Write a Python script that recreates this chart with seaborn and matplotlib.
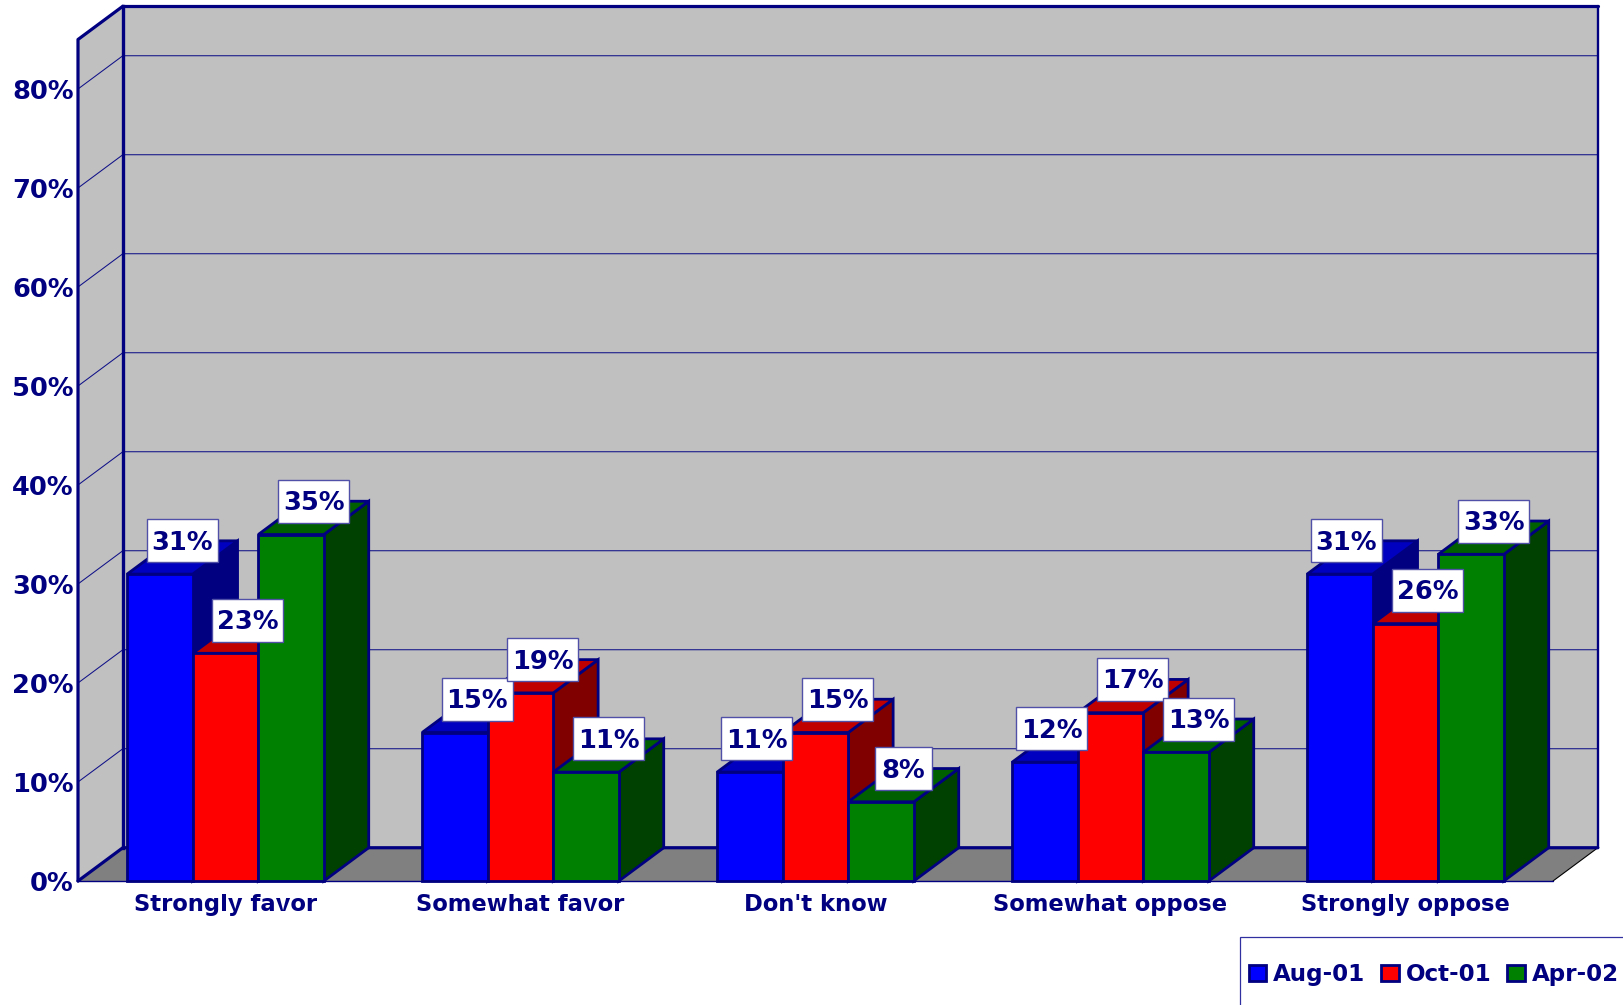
import matplotlib
matplotlib.use("Agg")
import matplotlib.pyplot as plt
from matplotlib.patches import Polygon, Rectangle
import pandas as pd
import seaborn as sns

categories = ["Strongly favor", "Somewhat favor", "Don't know", "Somewhat oppose", "Strongly oppose"]
series = ["Aug-01", "Oct-01", "Apr-02"]
aug_01 = [31, 15, 11, 12, 31]
oct_01 = [23, 19, 15, 17, 26]
apr_02 = [35, 11, 8, 13, 33]
y_ticks = [0, 10, 20, 30, 40, 50, 60, 70, 80]

NAVY = "#000080"
front = {"Aug-01": "#0000FF", "Oct-01": "#FF0000", "Apr-02": "#008000"}
top_c = {"#0000FF": "#0000C0", "#FF0000": "#C00000", "#008000": "#006000"}
side_c = {"#0000FF": "#000080", "#FF0000": "#800000", "#008000": "#004000"}

W, H = 1623, 1005
sns.set_theme(style="white")
plt.rcParams["font.family"] = ["DejaVu Sans"]
plt.rcParams["font.weight"] = "bold"
plt.rcParams["text.hinting"] = "no_autohint"

df = pd.DataFrame({
    "category": categories * 3,
    "series": sum([[s] * len(categories) for s in series], []),
    "value": aug_01 + oct_01 + apr_02,
})

fig = plt.figure(figsize=(W / 100, H / 100), dpi=100, facecolor="white")
ax = fig.add_axes([78 / W, (H - 881) / H, (1553 - 78) / W, (881 - 39.5) / H])
ax.patch.set_visible(False)
sns.barplot(data=df, x="category", y="value", hue="series", order=categories, hue_order=series,
            palette=front, width=0.667, gap=0, dodge=True, edgecolor=NAVY, linewidth=2.0,
            saturation=1, errorbar=None, legend=False, ax=ax)
ax.set_xlim(-0.5, 4.5)
ax.set_ylim(0, 85)
ax.set_xlabel("")
ax.set_ylabel("")
for s in ax.spines.values():
    s.set_visible(False)
ax.set_yticks(y_ticks)
ax.set_yticklabels([f"{v}%" for v in y_ticks])
ax.tick_params(axis="y", length=0, pad=3, labelsize=18.5, labelcolor=NAVY)
ax.tick_params(axis="x", length=0, pad=9, labelsize=16.3, labelcolor=NAVY)

DX, DY = 0.152, 3.36
x0, x1, ymax = -0.5, 4.5, 85


def poly(pts, fc, ec=NAVY, lw=2.0, z=1):
    ax.add_patch(Polygon(pts, closed=True, facecolor=fc, edgecolor=ec, linewidth=lw,
                         joinstyle="miter", zorder=z, clip_on=False))


# walls and floor
poly([(x0 + DX, DY), (x1 + DX, DY), (x1 + DX, ymax + DY), (x0 + DX, ymax + DY)], "#C0C0C0", "none", 0, 0.5)
poly([(x0, 0), (x0 + DX, DY), (x0 + DX, ymax + DY), (x0, ymax)], "#C0C0C0", "none", 0, 0.5)
poly([(x0, 0), (x1, 0), (x1 + DX, DY), (x0 + DX, DY)], "#808080", "none", 0, 0.5)
for v in y_ticks[1:]:
    ax.plot([x0, x0 + DX, x1 + DX], [v, v + DY, v + DY], color="#101088", lw=0.75, zorder=1, clip_on=False)
ax.plot([x0 + DX, x0 + DX], [DY, ymax + DY], color=NAVY, lw=2.4, zorder=2, clip_on=False, solid_capstyle="projecting")
ax.plot([x0 + DX, x1 + DX], [ymax + DY, ymax + DY], color=NAVY, lw=2.3, zorder=2, clip_on=False)
ax.plot([x1 + DX, x1 + DX], [ymax + DY, DY], color=NAVY, lw=1.7, zorder=2, clip_on=False)
ax.plot([x1 + DX, x1], [DY, 0], color="black", lw=0.8, zorder=2, clip_on=False)
ax.plot([x0, x0, x0 + DX], [0, ymax, ymax + DY], color=NAVY, lw=2.3, zorder=2, clip_on=False, solid_capstyle="round")
ax.plot([x0, x0 + DX, x1 + DX], [0, DY, DY], color=NAVY, lw=2.3, zorder=2, clip_on=False)
ax.plot([x0, x1], [0, 0], color=NAVY, lw=1.0, zorder=2, clip_on=False)

# depth faces for every bar, derived from the bars seaborn drew
bars = sorted([p for p in ax.patches if isinstance(p, Rectangle) and p.get_width() > 0 and p.get_height() > 0],
              key=lambda p: p.get_x())
for i, b in enumerate(bars):
    x, w, h = b.get_x(), b.get_width(), b.get_height()
    fc = matplotlib.colors.to_hex(b.get_facecolor()).upper()
    z = 10 + 3 * i
    poly([(x + w, 0), (x + w + DX, DY), (x + w + DX, h + DY), (x + w, h)], side_c[fc], z=z)
    poly([(x, h), (x + w, h), (x + w + DX, h + DY), (x + DX, h + DY)], top_c[fc], z=z + 1)
    b.set_zorder(z + 2)
    b.set_clip_on(False)

# value labels: the first bar of the last three groups has its label nudged left
BOX_W, BOX_W_NARROW, BOX_H = 0.2407, 0.19, 4.34
NUDGE = -0.054
nudged = {6, 9, 12}
for i, b in enumerate(bars):
    x, w, h = b.get_x(), b.get_width(), b.get_height()
    cx = x + w / 2 + DX / 2 + (NUDGE if i in nudged else 0)
    cy = h + DY
    bw = BOX_W if h >= 10 else BOX_W_NARROW
    ax.add_patch(Rectangle((cx - bw / 2, cy - BOX_H / 2), bw, BOX_H, facecolor="white",
                           edgecolor="#5050A8", linewidth=1.0, zorder=200 + 2 * i, clip_on=False))
    ax.text(cx, cy + 0.1, f"{h:.0f}%", ha="center", va="center_baseline", fontsize=18.5, color=NAVY,
            zorder=201 + 2 * i, clip_on=False)

# legend
handles = [Rectangle((0, 0), 1, 1, facecolor=front[s], edgecolor=NAVY, linewidth=2.0) for s in series]
fig.legend(handles, series, loc="center left", bbox_to_anchor=(1249 / W, (H - 975) / H), ncol=3, frameon=False,
           fontsize=16.6, labelcolor=NAVY, handlelength=0.75, handleheight=0.75, handletextpad=0.3,
           columnspacing=0.7, borderpad=0, borderaxespad=0)
fig.add_artist(Rectangle((1240 / W, -10 / H), (W + 20 - 1240) / W, (H + 10 - 937) / H, transform=fig.transFigure,
                         facecolor="none", edgecolor="#3030A0", linewidth=0.9))

fig.savefig("out.png", dpi=100)
